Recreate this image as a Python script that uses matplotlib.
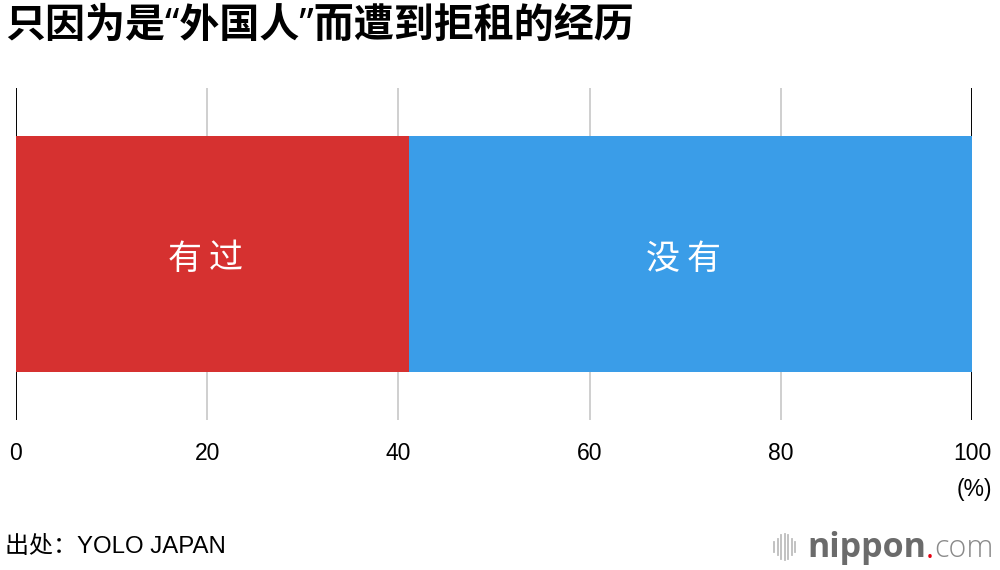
import matplotlib.pyplot as plt
from matplotlib.lines import Line2D

plt.rcParams['font.family'] = ['Noto Sans CJK SC', 'DejaVu Sans']

title = "只因为是“外国人”而遭到拒租的经历"
categories = ["有过", "没有"]
values = [41.1, 58.9]
colors = ["#D63130", "#3A9DE8"]
ticks = [0, 20, 40, 60, 80, 100]
source = "出处：YOLO JAPAN"

fig = plt.figure(figsize=(10, 5.7), dpi=100)
ax = fig.add_axes([0.016, 0.263, 0.956, 0.5825])

# grid lines, ends in black
for t in ticks:
    c = "black" if t in (ticks[0], ticks[-1]) else "#cfcfcf"
    ax.axvline(t, color=c, lw=1.4, zorder=0)

left = 0
pitch = 29.5  # letter pitch in points (spaced-out labels)
for cat, v, col in zip(categories, values, colors):
    ax.barh(0, v, left=left, height=0.711, color=col, lw=0, zorder=2)
    n = len(cat)
    for i, ch in enumerate(cat):
        ax.annotate(ch, xy=(left + v / 2, -0.015), xycoords="data",
                    xytext=((i - (n - 1) / 2) * pitch - 5, 0), textcoords="offset points",
                    ha="center", va="center", color="white", fontsize=24.5,
                    fontweight="medium", zorder=3)
    left += v

ax.set_xlim(0, 100)
ax.set_ylim(-0.5, 0.5)
ax.axis("off")

latin = ["Liberation Sans", "Noto Sans CJK SC"]
for t in ticks:
    ax.text(t, -0.6, str(t), ha="center", va="center", fontsize=16.5, family=latin)
ax.text(1.003, -0.71, "(%)", ha="center", va="center", fontsize=16.5,
        transform=ax.get_yaxis_transform(), family=latin)

fig.text(0.005, 0.952, title, fontsize=28.8, fontweight="bold", va="center", ha="left",
         family=["Noto Sans", "Noto Sans CJK SC"])
fig.text(0.005, 0.04, source, fontsize=17.3, va="center", ha="left", family=latin)

# nippon.com logo
heights = [10, 16, 24, 26, 24, 16, 10]
for i, h in enumerate(heights):
    x = 0.774 + i * 0.0035
    fig.add_artist(Line2D([x, x], [1 - (547 + h / 2) / 570, 1 - (547 - h / 2) / 570],
                          color="#bdbdbd", lw=1.3, transform=fig.transFigure))
logo_font = ["Open Sans", "DejaVu Sans"]
t1 = fig.text(0.807, 0.0235, "nippon", fontsize=24.5, fontweight="bold", color="#6b6b6b",
              va="baseline", ha="left", family=logo_font)
t2 = plt.annotate(".", xy=(1, 0), xycoords=t1, xytext=(0, 0), textcoords="offset points",
                  fontsize=22, color="#e60012", va="bottom", ha="left", family=logo_font,
                  annotation_clip=False)
t3 = plt.annotate("com", xy=(1, 0), xycoords=t2, xytext=(0, 0), textcoords="offset points",
                  fontsize=22, fontweight="light", color="#8a8a8a", va="bottom", ha="left",
                  family=logo_font, annotation_clip=False)

fig.savefig("out.png", dpi=100, facecolor="white")
